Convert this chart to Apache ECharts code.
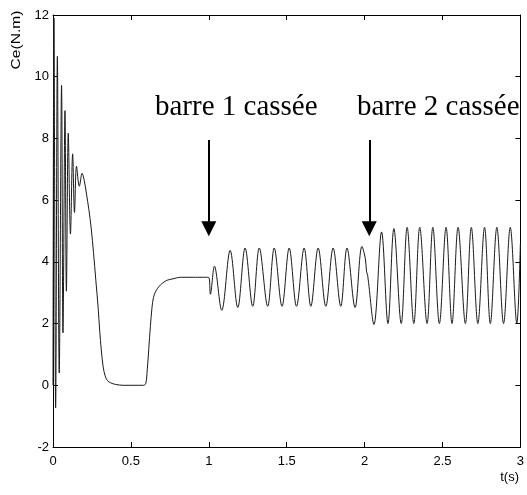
<!DOCTYPE html>
<html>
<head>
<meta charset="utf-8">
<script src="https://cdn.jsdelivr.net/npm/echarts@6/dist/echarts.min.js"></script>
<style>
html,body{margin:0;padding:0;background:#fff;}
#chart{width:527px;height:495px;}
</style>
</head>
<body>
<div id="chart"></div>
<script>
// time (s)
var timeS = [
  0, 0.006, 0.017, 0.028, 0.040, 0.055, 0.064, 0.077, 0.086, 0.098, 0.112, 0.126, 0.138, 0.151, 0.169, 0.187,
  0.200, 0.215, 0.230, 0.245, 0.260, 0.275, 0.290, 0.300, 0.310, 0.322, 0.335, 0.350, 0.370, 0.400, 0.450, 0.500, 0.580,
  0.595, 0.605, 0.615, 0.625, 0.635, 0.645, 0.660, 0.680, 0.700, 0.730, 0.770, 0.820, 0.900, 0.998,
  1.010, 1.036, 1.083, 1.137, 1.186, 1.233, 1.282, 1.324, 1.378, 1.420, 1.470, 1.516, 1.563, 1.612, 1.655, 1.702,
  1.751, 1.798, 1.847, 1.887, 1.939, 1.983, 2.005, 2.012, 2.020,
  2.060, 2.109, 2.150, 2.188, 2.235, 2.273, 2.316, 2.354, 2.401, 2.438, 2.480, 2.523, 2.561, 2.600, 2.647, 2.685,
  2.727, 2.770, 2.807, 2.849, 2.892, 2.935, 2.977, 3.000
];
// electromagnetic torque Ce (N.m)
var torqueCe = [
  0, 11.9, -0.73, 10.66, 0.4, 9.72, 1.7, 8.9, 3.05, 8.17, 4.9, 7.5, 5.6, 7.1, 6.45, 6.87,
  6.65, 6.2, 5.7, 5.1, 4.3, 3.4, 2.5, 1.75, 1.15, 0.6, 0.3, 0.15, 0.08, 0.03, 0.0, 0.0, 0.0,
  0.05, 0.5, 1.2, 1.9, 2.5, 2.85, 3.05, 3.2, 3.3, 3.4, 3.45, 3.5, 3.5, 3.5,
  2.95, 3.86, 2.43, 4.37, 2.52, 4.45, 2.56, 4.45, 2.56, 4.45, 2.56, 4.45, 2.56, 4.45, 2.56, 4.45,
  2.56, 4.45, 2.56, 4.45, 2.52, 4.5, 4.1, 3.7, 3.55,
  1.97, 4.97, 2.0, 5.08, 2.0, 5.12, 2.0, 5.12, 2.0, 5.12, 2.0, 5.12, 2.0, 5.12, 2.0, 5.12,
  2.0, 5.12, 2.0, 5.12, 2.0, 5.12, 2.0, 4.6
];
var xTicks = [0, 0.5, 1, 1.5, 2, 2.5, 3];
var yTicks = [-2, 0, 2, 4, 6, 8, 10, 12];
// annotations
var breakLabels = ['barre 1 cassée', 'barre 2 cassée'];
var breakTimes = [1.0, 2.03];
var arrowFrom = 7.95;
var arrowTo = 5.07;

var data = timeS.map(function (t, i) { return [t, torqueCe[i]]; });

var chart = echarts.init(document.getElementById('chart'), null, {renderer: 'canvas'});
var tickFont = {fontFamily: '"Liberation Sans", Arial, sans-serif', fontSize: 13, color: '#000'};
var axisBase = {
  type: 'value',
  axisLine: {show: true, onZero: false, lineStyle: {color: '#000', width: 1}},
  axisTick: {show: true, inside: true, length: 5, lineStyle: {color: '#000'}},
  splitLine: {show: false}
};
chart.setOption({
  animation: false,
  backgroundColor: '#fff',
  grid: {left: 53, right: 5, top: 15, bottom: 48},
  xAxis: [
    Object.assign({}, axisBase, {min: xTicks[0], max: xTicks[xTicks.length - 1], interval: 0.5, position: 'bottom',
      axisLabel: Object.assign({margin: 8}, tickFont)}),
    Object.assign({}, axisBase, {min: xTicks[0], max: xTicks[xTicks.length - 1], interval: 0.5, position: 'top',
      axisLabel: {show: false}})
  ],
  yAxis: [
    Object.assign({}, axisBase, {min: yTicks[0], max: yTicks[yTicks.length - 1], interval: 2, position: 'left',
      axisLabel: Object.assign({margin: 4}, tickFont)}),
    Object.assign({}, axisBase, {min: yTicks[0], max: yTicks[yTicks.length - 1], interval: 2, position: 'right',
      axisLabel: {show: false}})
  ],
  series: [{
    type: 'line',
    data: data,
    showSymbol: false,
    symbol: 'none',
    smooth: 0.35,
    lineStyle: {color: '#1a1a1a', width: 1},
    silent: true,
    markLine: {
      silent: true,
      symbol: ['none', 'triangle'],
      symbolSize: 15,
      label: {show: false},
      lineStyle: {color: '#000', width: 2, type: 'solid'},
      emphasis: {disabled: true},
      data: breakTimes.map(function (t) {
        return [{coord: [t, arrowFrom]}, {coord: [t, arrowTo]}];
      })
    }
  }],
  graphic: [
    {type: 'text', x: 155, y: 107, style: {text: breakLabels[0], font: '29px "Liberation Serif", "Times New Roman", serif', fill: '#000', textAlign: 'left', textVerticalAlign: 'middle'}},
    {type: 'text', x: 357, y: 107, style: {text: breakLabels[1], font: '29px "Liberation Serif", "Times New Roman", serif', fill: '#000', textAlign: 'left', textVerticalAlign: 'middle'}},
    {type: 'text', x: 17, y: 40, rotation: Math.PI / 2, scaleX: 1.3, style: {text: 'Ce(N.m)', font: '12px "Liberation Sans", Arial, sans-serif', fill: '#000', textAlign: 'center', textVerticalAlign: 'middle'}},
    {type: 'text', x: 519, y: 477, style: {text: 't(s)', font: '13px "Liberation Sans", Arial, sans-serif', fill: '#000', textAlign: 'right', textVerticalAlign: 'middle'}}
  ]
});
</script>
</body>
</html>
